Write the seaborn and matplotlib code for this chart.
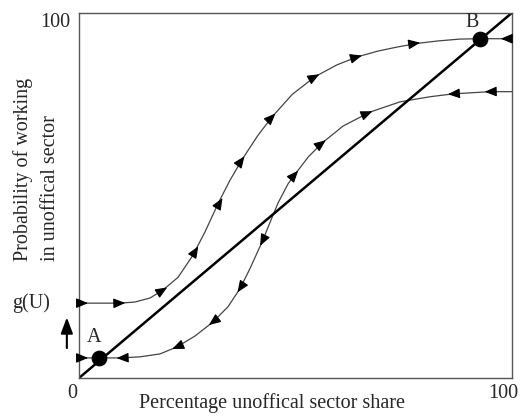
import numpy as np
import pandas as pd
import matplotlib
matplotlib.use("Agg")
import matplotlib.pyplot as plt
import seaborn as sns

# Curves (x = unofficial sector share, y = probability)
upper_x = [0, 4.8, 9.5, 12.9, 16.4, 19.4, 22.9, 26.3, 29.1, 32.3, 34.9, 37.6, 41.3,
           44.6, 49.2, 54.5, 59.5, 64.2, 69, 73.4, 78, 83, 88, 92.6, 100]
upper_y = [20.5, 20.5, 20.5, 20.8, 21.9, 24.1, 27.6, 33.6, 40, 48.2, 54.2, 59.7, 66.4,
           71.5, 77.6, 82.5, 85.7, 87.9, 89.5, 90.6, 91.6, 92.3, 92.8, 92.9, 92.9]

lower_x = [0, 4.6, 9.5, 14.1, 18.7, 22.6, 26.8, 30.9, 34.4, 37.2, 39.5, 42.3, 44.6,
           46.0, 48.3, 49.9, 53, 56.1, 61, 67.2, 74.1, 81, 86.4, 94.9, 100]
lower_y = [5.5, 5.5, 5.5, 5.8, 6.6, 8.5, 11.5, 15.3, 19.5, 24.5, 30, 37.3, 44,
           48, 53.2, 55.8, 60.6, 64.3, 69, 72.8, 75.6, 77, 77.8, 78.4, 78.4]

diag_x = [0, 100]
diag_y = [0, 100]

# Equilibrium points
eq_labels = ["A", "B"]
eq_x = [4.6, 92.6]
eq_y = [5.5, 92.9]

# Arrow heads: position and direction along the curve (+1 = rightwards)
upper_arrow_x = [0.9, 9.5, 19.4, 27, 32.6, 37.6, 44.6, 54.5, 64.2, 77.6, 98.6]
upper_arrow_y = [20.5, 20.5, 24.1, 35, 48.2, 59.7, 71.5, 82.5, 87.9, 91.6, 92.9]
upper_arrow_dir = [1, 1, 1, 1, 1, 1, 1, 1, 1, 1, -1]

lower_arrow_x = [0.9, 9.9, 22.6, 30.9, 37.2, 42.3, 49.9, 56.1, 66.7, 86.4, 94.9]
lower_arrow_y = [5.5, 5.5, 8.5, 15.3, 24.5, 37.3, 55.8, 64.3, 72.5, 77.8, 78.4]
lower_arrow_dir = [1, -1, -1, -1, -1, -1, 1, 1, 1, -1, -1]

sns.set_theme(style="white")
plt.rcParams["font.family"] = ["Liberation Serif", "DejaVu Serif"]

fig = plt.figure(figsize=(5.23, 4.16), dpi=100)
ax = fig.add_axes([0.151, 0.0913, 0.828, 0.878])

curve_color = "#444444"
sns.lineplot(x=upper_x, y=upper_y, ax=ax, color=curve_color, lw=0.9, sort=False, estimator=None)
sns.lineplot(x=lower_x, y=lower_y, ax=ax, color=curve_color, lw=0.9, sort=False, estimator=None)
sns.lineplot(x=diag_x, y=diag_y, ax=ax, color="black", lw=1.8, sort=False, estimator=None)
sns.scatterplot(x=eq_x, y=eq_y, ax=ax, color="black", s=110, edgecolor="black", zorder=5)

ax.set_xlim(0, 100)
ax.set_ylim(0, 100)


def draw_arrows(cx, cy, xs, ys, dirs):
    for x, y, d in zip(xs, ys, dirs):
        dy = np.interp(x + 0.6, cx, cy) - np.interp(x - 0.6, cx, cy)
        vx, vy = 1.2 * d, dy * d
        # scale direction to display units so the head length is even
        n = np.hypot(vx * 4.33, vy * 3.65)
        ux, uy = vx / n * 4.33, vy / n * 3.65
        ax.annotate("", xy=(x + ux * 1.2, y + uy * 1.2), xytext=(x - ux * 1.2, y - uy * 1.2),
                    arrowprops=dict(arrowstyle="-|>,head_length=0.6,head_width=0.25",
                                    mutation_scale=12, color="black", lw=0.8,
                                    shrinkA=0, shrinkB=0))


draw_arrows(upper_x, upper_y, upper_arrow_x, upper_arrow_y, upper_arrow_dir)
draw_arrows(lower_x, lower_y, lower_arrow_x, lower_arrow_y, lower_arrow_dir)

for sp in ax.spines.values():
    sp.set_visible(True)
    sp.set_color("#555555")
    sp.set_linewidth(1.0)

ax.set_xticks([])
ax.set_yticks([])

fs = 14.5
ax.text(3.5, 11, eq_labels[0], fontsize=fs, ha="center", va="center")
ax.text(90.8, 97.3, eq_labels[1], fontsize=fs, ha="center", va="center")

ax.text(-2.1, 97.3, "100", fontsize=fs, ha="right", va="center", clip_on=False)
ax.text(-1.6, -4.3, "0", fontsize=fs, ha="center", va="center", clip_on=False)
ax.text(98, -4.3, "100", fontsize=fs, ha="center", va="center", clip_on=False)
ax.text(-6.7, 20.5, "g(U)", fontsize=fs, ha="right", va="center", clip_on=False)
ax.text(44.5, -6.8, "Percentage unoffical sector share", fontsize=fs,
        ha="center", va="center", clip_on=False)

# upward arrow next to g(U)
ax.annotate("", xy=(-2.8, 16.6), xytext=(-2.8, 8.2), annotation_clip=False,
            arrowprops=dict(arrowstyle="-|>,head_length=0.8,head_width=0.3",
                            mutation_scale=12, color="black", lw=1.5,
                            shrinkA=0, shrinkB=0))

# two-line y label
fig.text(0.044, 0.373, "Probability of working", fontsize=fs,
         rotation=90, ha="center", va="bottom")
fig.text(0.0975, 0.373, "in unoffical sector", fontsize=fs,
         rotation=90, ha="center", va="bottom")

fig.savefig("out.png", dpi=100)
